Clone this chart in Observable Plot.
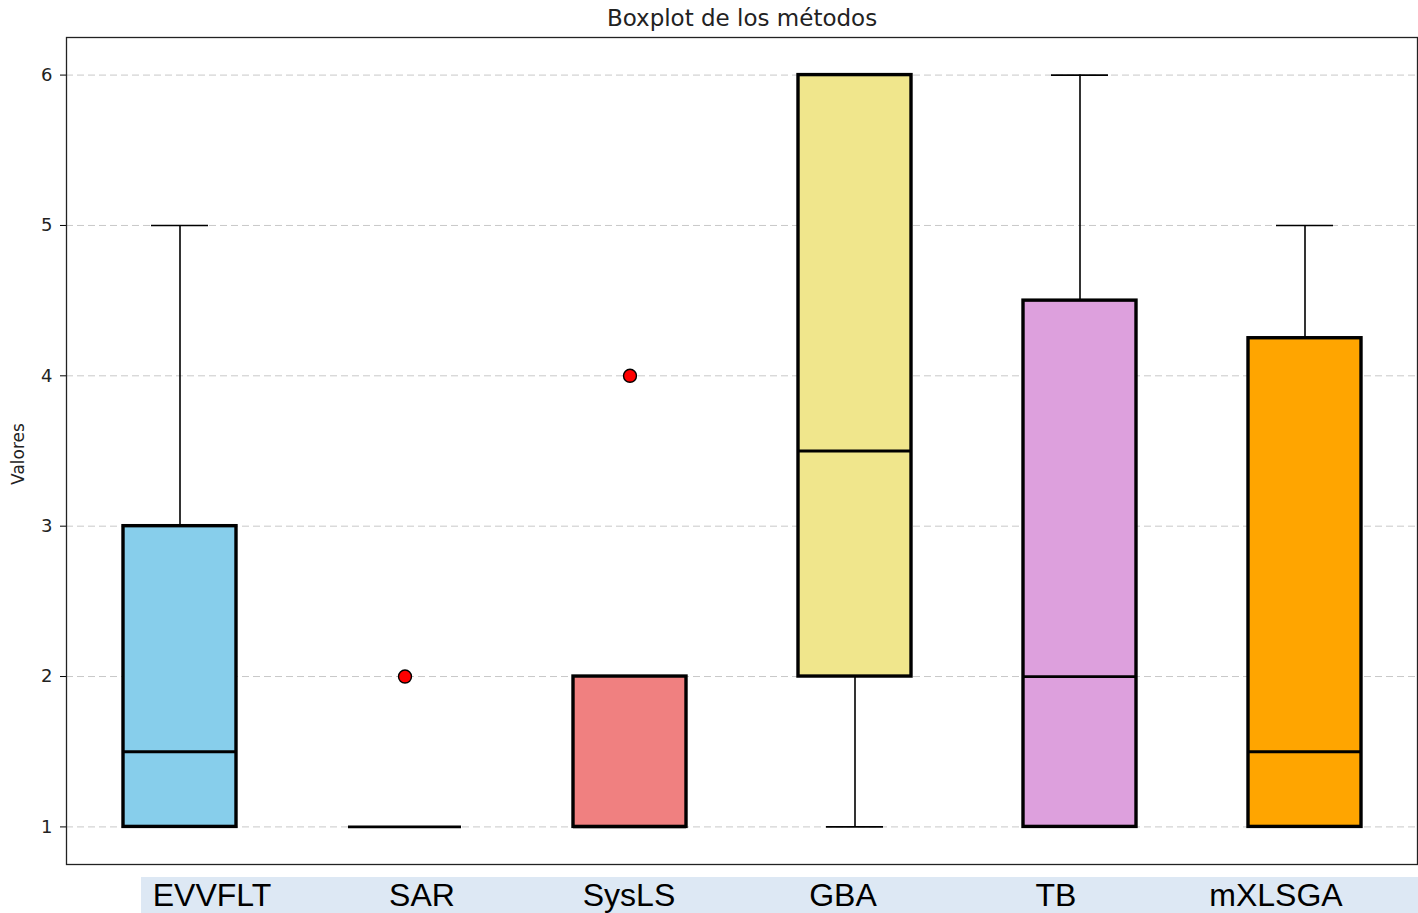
<!DOCTYPE html>
<html>
<head>
<meta charset="utf-8">
<script src="https://cdn.jsdelivr.net/npm/d3@7"></script>
<script src="https://cdn.jsdelivr.net/npm/@observablehq/plot@0.6"></script>
<style>
  html, body { margin: 0; padding: 0; background: #fff; }
  #wrap { position: relative; width: 1418px; height: 913px; overflow: hidden; }
  #band { position: absolute; left: 141px; top: 877px; width: 1277px; height: 36px; background: #dde8f4; }
  .lab { position: absolute; top: 875px; font-family: "Liberation Sans", Arial, sans-serif; font-size: 32px; color: #000; transform: translateX(-50%); white-space: nowrap; line-height: 40px; }
</style>
</head>
<body>
<div id="wrap"><div id="band"></div></div>
<script>
// Data
const methods   = ["EVVFLT", "SAR", "SysLS", "GBA", "TB", "mXLSGA"];
const colors    = ["#87CEEB", "#90EE90", "#F08080", "#F0E68C", "#DDA0DD", "#FFA500"];
const whiskerLo = [1, 1, 1, 1, 1, 1];
const q1        = [1, 1, 1, 2, 1, 1];
const medians   = [1.5, 1, 1, 3.5, 2, 1.5];
const q3        = [3, 1, 2, 6, 4.5, 4.25];
const whiskerHi = [5, 1, 2, 6, 6, 5];
const outlierMethods = ["SAR", "SysLS"];
const outlierValues  = [2, 4];
const yTicks = [1, 2, 3, 4, 5, 6];
const labelCenters = [212, 422, 629, 843, 1056, 1276]; // overlay label layout

const stats = methods.map((m, i) => ({
  name: m, color: colors[i], lo: whiskerLo[i], q1: q1[i], med: medians[i], q3: q3[i], hi: whiskerHi[i]
}));
const outliers = outlierMethods.map((m, i) => ({name: m, value: outlierValues[i]}));

const boxInset = 56;
const capInset = 84;

const chart = Plot.plot({
  width: 1418,
  height: 870,
  marginTop: 37,
  marginBottom: 6,
  marginLeft: 66,
  marginRight: 1,
  style: {fontFamily: "DejaVu Sans, sans-serif", background: "#fff", overflow: "visible"},
  x: {type: "band", domain: methods, padding: 0, axis: null},
  y: {domain: [0.75, 6.25], axis: null},
  marks: [
    Plot.gridY(yTicks, {stroke: "#c8c8c8", strokeOpacity: 1, strokeWidth: 1, strokeDasharray: "7,4"}),
    Plot.axisY(yTicks, {tickSize: 6, tickPadding: 8, fontSize: 18, stroke: "#000", fill: "#222", label: null, tickFormat: d3.format("d")}),
    Plot.text(["Valores"], {frameAnchor: "left", textAnchor: "middle", dx: -48, dy: 3, rotate: -90, fontSize: 17, fill: "#222"}),
    Plot.text(["Boxplot de los métodos"], {frameAnchor: "top", lineAnchor: "middle", dy: -19, fontSize: 23, fill: "#222"}),
    // whiskers
    Plot.ruleX(stats, {x: "name", y1: "lo", y2: "q1", stroke: "#000", strokeWidth: 1.6}),
    Plot.ruleX(stats, {x: "name", y1: "q3", y2: "hi", stroke: "#000", strokeWidth: 1.6}),
    // caps
    Plot.tickY(stats, {x: "name", y: "lo", stroke: "#000", strokeWidth: 1.6, insetLeft: capInset, insetRight: capInset}),
    Plot.tickY(stats, {x: "name", y: "hi", stroke: "#000", strokeWidth: 1.6, insetLeft: capInset, insetRight: capInset}),
    // boxes
    Plot.barY(stats, {x: "name", y1: "q1", y2: "q3", fill: "color", stroke: "#000", strokeWidth: 3.4, insetLeft: boxInset, insetRight: boxInset}),
    // medians
    Plot.tickY(stats, {x: "name", y: "med", stroke: "#000", strokeWidth: 2.8, insetLeft: boxInset, insetRight: boxInset}),
    // outliers
    Plot.dot(outliers, {x: "name", y: "value", r: 6.5, fill: "red", stroke: "#000", strokeWidth: 1.4}),
    Plot.frame({stroke: "#222", strokeWidth: 1.3})
  ]
});
const wrap = document.getElementById("wrap");
wrap.insertBefore(chart, wrap.firstChild);
chart.style.position = "absolute";
chart.style.left = "0px";
chart.style.top = "0px";

methods.forEach((m, i) => {
  const s = document.createElement("div");
  s.className = "lab";
  s.style.left = labelCenters[i] + "px";
  s.textContent = m;
  wrap.appendChild(s);
});
</script>
</body>
</html>
